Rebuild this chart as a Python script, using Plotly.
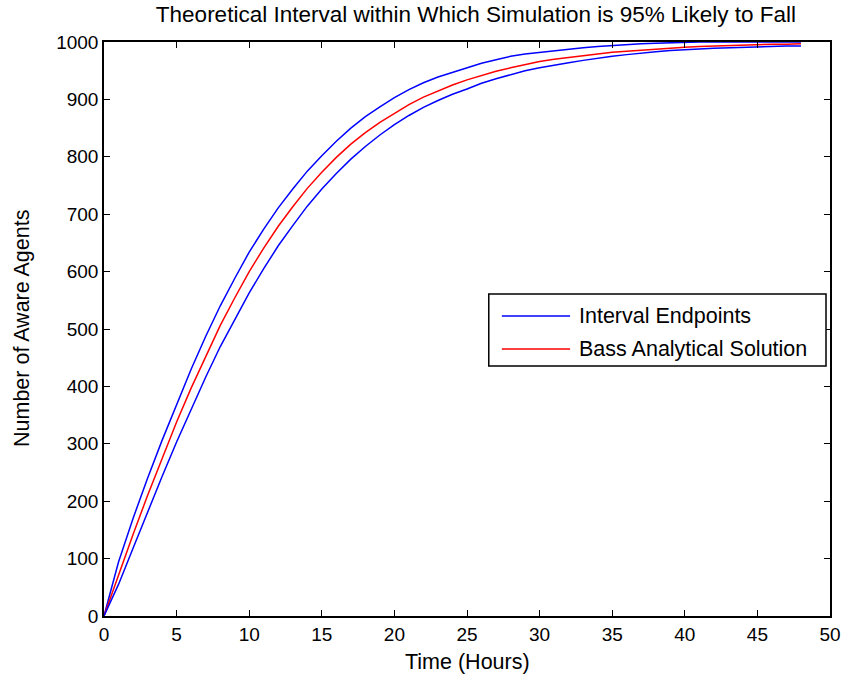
import plotly.graph_objects as go

# Hourly time stamps
hours = list(range(0, 49))

# Bass analytical solution (number of aware agents)
bass = [0, 72, 142, 210, 275, 338, 397, 453, 506, 554, 600, 641, 679, 713, 745,
        773, 799, 822, 842, 860, 876, 891, 904, 915, 925, 934, 942, 949, 955, 961,
        966, 970, 973, 977, 980, 982, 984, 986, 988, 989, 991, 992, 993, 994, 995,
        995, 996, 996, 997]

# Upper and lower endpoints of the 95% interval
upper = [0, 94, 170, 240, 306, 369, 430, 487, 540, 588, 634, 674, 711, 744, 775,
         802, 827, 850, 870, 887, 903, 917, 929, 939, 947, 955, 963, 969, 975, 979,
         982, 985, 988, 990, 992, 994, 996, 997, 998, 999, 1000, 1000, 1000, 1000,
         1000, 1000, 1000, 1000, 1000]
lower = [0, 55, 118, 182, 243, 303, 361, 416, 469, 517, 563, 605, 645, 680, 714,
         744, 771, 796, 818, 838, 856, 872, 886, 898, 909, 918, 928, 936, 943, 950,
         955, 960, 964, 968, 972, 975, 978, 981, 983, 985, 987, 988, 989, 990, 991,
         991, 992, 993, 993]

x_ticks = list(range(0, 51, 5))
y_ticks = list(range(0, 1001, 100))

title_text = "Theoretical Interval within Which Simulation is 95% Likely to Fall"
x_label = "Time (Hours)"
y_label = "Number of Aware Agents"
legend_labels = ["Interval Endpoints", "Bass Analytical Solution"]

BLUE = "#0000ff"
RED = "#ff0000"
FONT = "Liberation Sans, Arial, sans-serif"
TXT = 21.5
TICK = 19

fig = go.Figure()
fig.add_trace(go.Scatter(x=hours, y=upper, mode="lines", line=dict(color=BLUE, width=1.5),
                         cliponaxis=False, showlegend=False))
fig.add_trace(go.Scatter(x=hours, y=bass, mode="lines", line=dict(color=RED, width=1.5),
                         cliponaxis=False, showlegend=False))
fig.add_trace(go.Scatter(x=hours, y=lower, mode="lines", line=dict(color=BLUE, width=1.5),
                         cliponaxis=False, showlegend=False))

axis_common = dict(
    showgrid=False, zeroline=False, showline=True, linecolor="black", linewidth=1.5,
    mirror="ticks", ticks="inside", ticklen=6, tickwidth=1, tickcolor="black",
    tickfont=dict(family=FONT, size=TICK, color="black"), automargin=False,
)

fig.update_xaxes(range=[0, 50], tickvals=x_ticks, **axis_common)
fig.update_yaxes(range=[0, 1000], tickvals=y_ticks, **axis_common)

# Boxed legend in the right half of the axes
lx0, lx1 = 0.530, 0.9945
ly0, ly1 = 0.4355, 0.561
rows = [(0.5226, BLUE), (0.465, RED)]
shapes = [dict(type="rect", xref="paper", yref="paper", x0=lx0, x1=lx1, y0=ly0, y1=ly1,
               line=dict(color="black", width=1.5), fillcolor="white", layer="above")]
annotations = []
for (yy, col), lab in zip(rows, legend_labels):
    shapes.append(dict(type="line", xref="paper", yref="paper", x0=0.548, x1=0.642,
                       y0=yy, y1=yy, line=dict(color=col, width=1.5), layer="above"))
    annotations.append(dict(text=lab, xref="paper", yref="paper", x=0.6515, y=yy,
                            xanchor="left", yanchor="middle", showarrow=False,
                            font=dict(family=FONT, size=TXT, color="black")))

# Axis titles
annotations.append(dict(text=x_label, xref="paper", yref="paper", x=0.5, y=0,
                        xanchor="center", yanchor="middle", yshift=-46, showarrow=False,
                        font=dict(family=FONT, size=TXT, color="black")))
annotations.append(dict(text=y_label, xref="paper", yref="paper", x=0, y=0.5,
                        xanchor="center", yanchor="middle", xshift=-82, textangle=-90,
                        showarrow=False, font=dict(family=FONT, size=TXT, color="black")))

fig.update_layout(
    width=845, height=675,
    margin=dict(l=104, r=15, t=42, b=59),
    paper_bgcolor="white", plot_bgcolor="white",
    title=dict(text=title_text, x=0.5633, xanchor="center", y=0.979, yanchor="middle",
               font=dict(family=FONT, size=22.5, color="black")),
    shapes=shapes, annotations=annotations,
    showlegend=False,
)

fig.write_html("out.html")
